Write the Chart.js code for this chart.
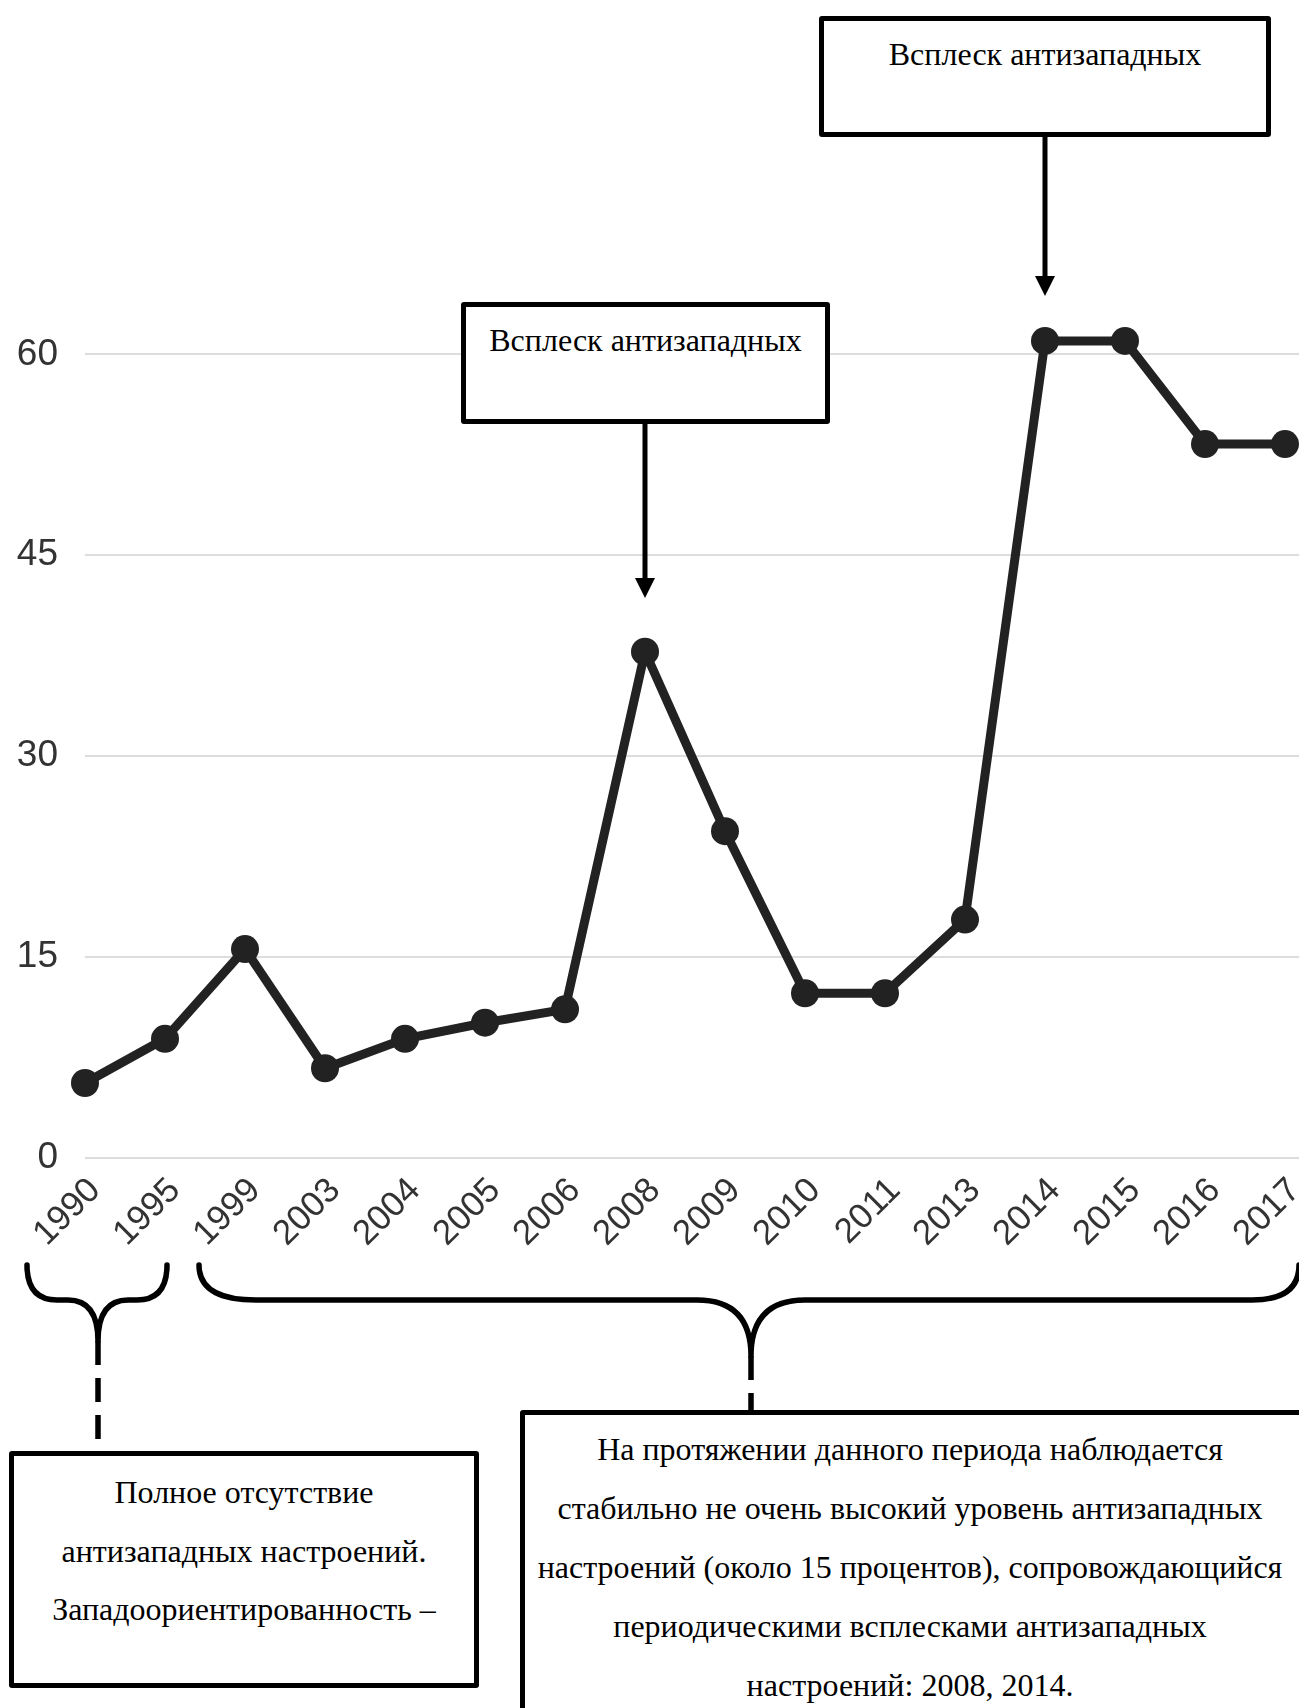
<!DOCTYPE html>
<html lang="ru">
<head>
<meta charset="utf-8">
<script src="https://cdn.jsdelivr.net/npm/chart.js@4/dist/chart.umd.min.js"></script>
<style>
  html, body { margin:0; padding:0; background:#fff; }
  body { width:1299px; height:1708px; overflow:hidden; position:relative; }
  #wrap { position:absolute; left:0; top:0; width:1299px; height:1300px; }
  svg { position:absolute; left:0; top:0; }
  .box {
    position:absolute; box-sizing:border-box; border:5px solid #000; border-radius:3px;
    background:#fff; font-family:"Liberation Serif","Times New Roman",serif; font-size:32px;
    color:#000; text-align:center; white-space:nowrap;
  }
</style>
</head>
<body>
<div id="wrap"><canvas id="chart"></canvas></div>

<svg width="1299" height="1708">
  <g fill="none" stroke="#000" stroke-width="5.5" stroke-linecap="round" stroke-linejoin="round">
    <!-- скобки -->
    <path d="M27 1265 Q27 1300 57 1300 L68 1300 Q98 1300 98 1341 Q98 1300 128 1300 L137 1300 Q167 1300 167 1265"/>
    <path d="M199 1265 Q199 1300 256 1300 L697 1300 Q751 1300 751 1356 Q751 1300 805 1300 L1252 1300 Q1299 1300 1299 1265"/>
  </g>
  <g stroke="#000" stroke-width="5.5" stroke-dasharray="24 13">
    <line x1="98" y1="1341" x2="98" y2="1451"/>
    <line x1="751" y1="1356" x2="751" y2="1410"/>
  </g>
  <!-- стрелки -->
  <g stroke="#000" stroke-width="5">
    <line x1="1045" y1="130" x2="1045" y2="280"/>
    <line x1="645" y1="418" x2="645" y2="582"/>
  </g>
  <g fill="#000">
    <polygon points="1035,276 1055,276 1045,296"/>
    <polygon points="635,578 655,578 645,598"/>
  </g>
</svg>

<div class="box" style="left:819px;top:16px;width:452px;height:121px;padding-top:4px;line-height:58px;">Всплеск антизападных</div>
<div class="box" style="left:461px;top:302px;width:369px;height:122px;padding-top:4px;line-height:58px;">Всплеск антизападных</div>
<div class="box" style="left:9px;top:1451px;width:470px;height:237px;padding-top:7px;line-height:58.5px;">Полное отсутствие<br>антизападных настроений.<br>Западоориентированность –</div>
<div class="box" style="left:520px;top:1410px;width:790px;height:320px;padding-top:5px;padding-right:10px;line-height:59px;">На протяжении данного периода наблюдается<br>стабильно не очень высокий уровень антизападных<br>настроений (около 15 процентов), сопровождающийся<br>периодическими всплесками антизападных<br>настроений: 2008, 2014.</div>

<script>
// данные графика
const years  = ['1990','1995','1999','2003','2004','2005','2006','2008','2009','2010','2011','2013','2014','2015','2016','2017'];
const values = [5.6, 8.9, 15.6, 6.7, 8.9, 10.1, 11.1, 37.8, 24.4, 12.3, 12.3, 17.8, 61, 61, 53.3, 53.3];
const yTicks = [0, 15, 30, 45, 60];

const points = values.map((v, i) => ({ x: i, y: v }));
const tickFont = { family: '"Liberation Sans", Arial, sans-serif', size: 37 };

new Chart(document.getElementById('chart'), {
  type: 'line',
  data: {
    datasets: [{
      data: points,
      borderColor: '#222',
      borderWidth: 9,
      pointRadius: 14,
      pointBackgroundColor: '#222',
      pointBorderWidth: 0,
      tension: 0,
      clip: false
    }]
  },
  options: {
    responsive: true,
    maintainAspectRatio: false,
    animation: false,
    layout: { autoPadding: false, padding: { top: 274, right: 0, bottom: 0, left: 0 } },
    plugins: { legend: { display: false }, tooltip: { enabled: false } },
    scales: {
      x: {
        type: 'linear',
        min: 0,
        max: 15.175,
        grid: { display: false },
        border: { display: false },
        ticks: {
          stepSize: 1, autoSkip: false, includeBounds: false, maxTicksLimit: 30,
          minRotation: 45, maxRotation: 45, labelOffset: 10, padding: 4,
          color: '#333', font: { family: tickFont.family, size: 35 },
          callback: v => years[v] ?? ''
        },
        afterFit: s => { s.height = 142; s.paddingLeft = 0; s.paddingRight = 0; }
      },
      y: {
        min: 0,
        max: 66,
        grid: { color: '#ddd', lineWidth: 2, drawTicks: false },
        border: { display: false },
        ticks: {
          stepSize: 15, includeBounds: false, padding: 27,
          color: '#333', font: tickFont,
          callback: v => yTicks.includes(v) ? String(v) : ''
        },
        afterFit: s => { s.width = 85; s.paddingTop = 0; s.paddingBottom = 0; }
      }
    }
  }
});
</script>
</body>
</html>
